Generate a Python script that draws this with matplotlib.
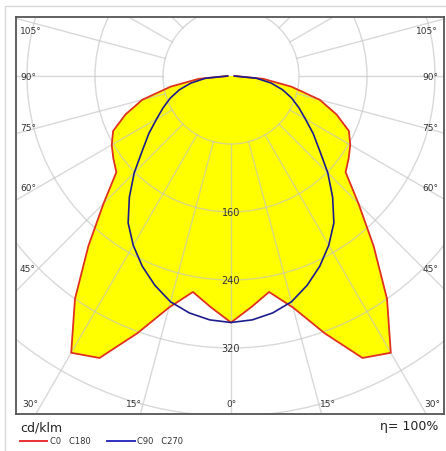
import numpy as np
import matplotlib.pyplot as plt
from matplotlib.patches import Circle, Rectangle

# luminous intensity in cd/klm, every 5 degrees
gamma = [0, 5, 10, 15, 20, 25, 30, 35, 40, 45, 50, 55, 60, 65, 70, 75, 80, 85, 90]
c0_c180 = [290, 273, 258, 282, 322, 366, 376, 320, 261, 212, 176, 169, 162, 153, 132, 108, 72, 38, 4]
c90_c270 = [290, 288, 283, 275, 262, 247, 230, 211, 186, 161, 136, 118, 101, 88, 76, 63, 48, 30, 4]

rings = [80, 160, 240, 320, 400, 480]
ring_labels = [160, 240, 320]
side_angles = [105, 90, 75, 60, 45]
bottom_angles = [30, 15, 0]

W, H = 446, 452
cx, cy = 231, 77          # pixel position of the luminaire
scale = 0.85              # pixels per cd/klm


def both_sides(vals):
    # mirror one half plane so the curve runs from -90 to +90 degrees
    g = np.radians(np.r_[-np.array(gamma[::-1]), np.array(gamma[1:])])
    r = np.r_[np.array(vals[::-1]), np.array(vals[1:])]
    return r * np.sin(g), -r * np.cos(g)


fig = plt.figure(figsize=(W / 100, H / 100), dpi=100)
fig.patches.append(Rectangle((5 / W, -0.05), 1.2, 1 - 7 / H + 0.05, transform=fig.transFigure,
                             fill=False, ec='#d8d8d8', lw=1.0))

ax = fig.add_axes([16 / W, 1 - 415 / H, 428 / W, 397 / H])
ax.set_xlim((16 - cx) / scale, (444 - cx) / scale)
ax.set_ylim(-(415 - cy) / scale, (cy - 18) / scale)
ax.set_xticks([])
ax.set_yticks([])
for s in ax.spines.values():
    s.set_color('#555555')
    s.set_linewidth(1.3)

# C0 - C180 filled
x0, y0 = both_sides(c0_c180)
ax.fill(x0, y0, color='#ffff00', zorder=1, lw=0)

# grid drawn over the fill
gcol = '#c4c4c4'
for r in rings:
    ax.add_patch(Circle((0, 0), r, fill=False, ec=gcol, lw=1.0, alpha=0.65, zorder=2))
for a in range(-180, 180, 15):
    t = np.radians(a)
    ax.plot([80 * np.sin(t), 700 * np.sin(t)], [-80 * np.cos(t), -700 * np.cos(t)],
            color=gcol, lw=1.0, alpha=0.65, zorder=2)

ax.plot(x0, y0, color='#e0301e', lw=1.3, zorder=3)
x1, y1 = both_sides(c90_c270)
ax.plot(x1, y1, color='#1c1c8c', lw=1.2, zorder=4)

for v in ring_labels:
    ax.text(0, -v, str(v), ha='center', va='center', fontsize=7, color='#333333', zorder=5)

# angle labels along the frame
for g in side_angles:
    py = cy + 0.95 * 203 / np.tan(np.radians(g)) if g != 90 else cy
    py = max(py, 31)
    fig.text(20 / W, 1 - py / H, f'{g}°', ha='left', va='center', fontsize=6.5, color='#333333')
    fig.text(438 / W, 1 - py / H, f'{g}°', ha='right', va='center', fontsize=6.5, color='#333333')
for g in bottom_angles:
    dx = min(1.1 * 328 * np.tan(np.radians(g)), 201)
    for px in {cx - dx, cx + dx}:
        fig.text(px / W, 1 - 405 / H, f'{g}°', ha='center', va='center', fontsize=6.5, color='#333333')

# legend and footer
fig.text(20 / W, 1 - 428 / H, 'cd/klm', ha='left', va='center', fontsize=9, color='#222222')
fig.text(438 / W, 1 - 427 / H, 'η= 100%', ha='right', va='center', fontsize=9, color='#222222')
fig.lines.append(plt.Line2D([20 / W, 47 / W], [1 - 442 / H] * 2, transform=fig.transFigure,
                            color='#e83030', lw=1.4))
fig.text(50 / W, 1 - 442 / H, 'C0   C180', ha='left', va='center', fontsize=6, color='#333333')
fig.lines.append(plt.Line2D([107 / W, 135 / W], [1 - 442 / H] * 2, transform=fig.transFigure,
                            color='#3030c0', lw=1.4))
fig.text(137 / W, 1 - 442 / H, 'C90   C270', ha='left', va='center', fontsize=6, color='#333333')

fig.savefig('out.png', dpi=100)
